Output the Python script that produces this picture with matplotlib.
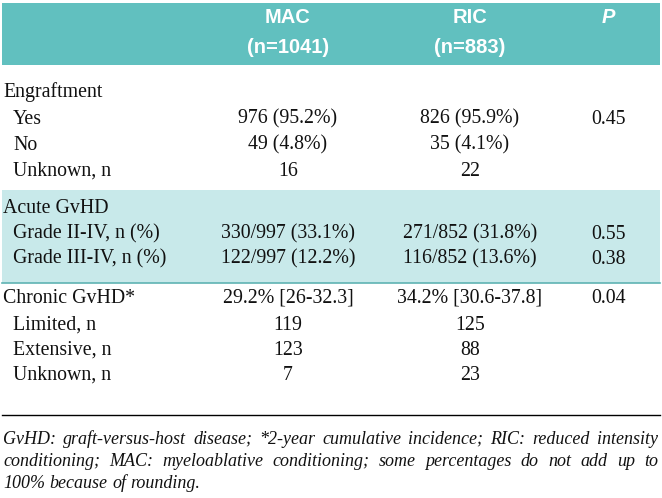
import matplotlib
matplotlib.use("Agg")
import matplotlib.pyplot as plt
from matplotlib.patches import Rectangle

# ---- data ----
header_cols = ["MAC\n(n=1041)", "RIC\n(n=883)", "P"]
row_labels = ["Engraftment", "Yes", "No", "Unknown, n",
              "Acute GvHD", "Grade II-IV, n (%)", "Grade III-IV, n (%)",
              "Chronic GvHD*", "Limited, n", "Extensive, n", "Unknown, n"]
row_indent = [0, 1, 1, 1, 0, 1, 1, 0, 1, 1, 1]
mac_values = ["", "976 (95.2%)", "49 (4.8%)", "16",
              "", "330/997 (33.1%)", "122/997 (12.2%)",
              "29.2% [26-32.3]", "119", "123", "7"]
ric_values = ["", "826 (95.9%)", "35 (4.1%)", "22",
              "", "271/852 (31.8%)", "116/852 (13.6%)",
              "34.2% [30.6-37.8]", "125", "88", "23"]
p_values = ["", "0.45", "", "", "", "0.55", "0.38", "0.04", "", "", ""]
footnote_lines = [
    "GvHD: graft-versus-host disease; *2-year cumulative incidence; RIC: reduced intensity",
    "conditioning; MAC: myeloablative conditioning; some percentages do not add up to",
    "100% because of rounding.",
]

# ---- layout ----
W, H = 662, 498
fig = plt.figure(figsize=(W / 100, H / 100), dpi=100)
ax = fig.add_axes([0, 0, 1, 1])
ax.set_xlim(0, W)
ax.set_ylim(H, 0)
ax.axis("off")

HEAD_BG = "#61c0bf"
BAND_BG = "#c8e9ea"
LINE_TEAL = "#5fb3b3"

x_left, x_right = 2, 660
ax.add_patch(Rectangle((x_left, 3), x_right - x_left, 62, color=HEAD_BG, lw=0))

row_y = [92, 119, 145, 171, 208, 234, 259, 298, 325, 350, 375]
band_top, band_bot = 190, 283
ax.add_patch(Rectangle((x_left, band_top), x_right - x_left, band_bot - band_top,
                       color=BAND_BG, lw=0))
ax.plot([x_left, x_right], [band_bot, band_bot], color=LINE_TEAL, lw=1.2)
ax.plot([x_left, x_right], [415, 415], color="black", lw=1.0)

col_x = [288, 470, 608]
head_font = dict(family=["Liberation Sans Narrow", "DejaVu Sans Condensed", "Liberation Sans"],
                 fontsize=14.5, fontweight="bold", color="white")
for i, (cx, txt) in enumerate(zip(col_x, header_cols)):
    lines = txt.split("\n")
    for j, ln in enumerate(lines):
        style = "italic" if txt == "P" else "normal"
        ax.text(cx, 17 + 30 * j, ln, ha="center", va="center", fontstyle=style, **head_font)

body_font = dict(family=["Liberation Serif", "DejaVu Serif"], fontsize=14.3, color="#111111")
for y, lab, ind, m, r, p in zip(row_y, row_labels, row_indent, mac_values, ric_values, p_values):
    ax.text(3 + 10 * ind, y, lab, ha="left", va="center", **body_font)
    ax.text(col_x[0], y, m, ha="center", va="center", **body_font)
    ax.text(col_x[1], y, r, ha="center", va="center", **body_font)
    ax.text(col_x[2], y, p, ha="center", va="center", **body_font)

# ---- justified footnote ----
foot_font = dict(family=["Liberation Serif", "DejaVu Serif"], fontsize=13,
                 fontstyle="italic", color="#111111")
fig.canvas.draw()
renderer = fig.canvas.get_renderer()

def text_width(s):
    t = ax.text(0, 0, s, **foot_font)
    bb = t.get_window_extent(renderer)
    t.remove()
    return bb.width  # pixels == data units

space_w = text_width("a a") - text_width("aa")
fx0, fx1 = 3, 658
avail = fx1 - fx0
foot_y = [439, 461, 483]
for li, (line, fy) in enumerate(zip(footnote_lines, foot_y)):
    ln = line.split(" ")
    widths = [text_width(x) for x in ln]
    if li < len(footnote_lines) - 1 and len(ln) > 1:
        gap = (avail - sum(widths)) / (len(ln) - 1)
    else:
        gap = space_w
    x = fx0
    for w, wd in zip(ln, widths):
        ax.text(x, fy, w, ha="left", va="center", **foot_font)
        x += wd + gap

fig.savefig("out.png", dpi=100)
